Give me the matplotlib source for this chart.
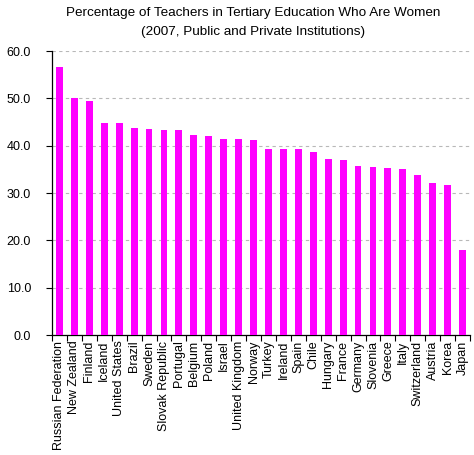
import numpy as np
import matplotlib.pyplot as plt
from matplotlib.ticker import FormatStrFormatter, FixedLocator

plt.rcParams['font.family'] = ['Liberation Sans', 'DejaVu Sans']

countries = ['Russian Federation', 'New Zealand', 'Finland', 'Iceland', 'United States',
             'Brazil', 'Sweden', 'Slovak Republic', 'Portugal', 'Belgium', 'Poland',
             'Israel', 'United Kingdom', 'Norway', 'Turkey', 'Ireland', 'Spain', 'Chile',
             'Hungary', 'France', 'Germany', 'Slovenia', 'Greece', 'Italy', 'Switzerland',
             'Austria', 'Korea', 'Japan']
share_women = [56.7, 50.0, 49.5, 44.7, 44.7, 43.8, 43.6, 43.3, 43.3, 42.3, 42.1,
               41.5, 41.5, 41.3, 39.3, 39.3, 39.3, 38.7, 37.1, 36.9, 35.7, 35.5,
               35.3, 35.1, 33.7, 32.1, 31.7, 18.0]

fig = plt.figure(figsize=(4.74, 4.55), dpi=100)
ax = fig.add_axes([52 / 474, 120 / 455, 418 / 474, 284 / 455])

x = np.arange(len(countries))
ax.bar(x, share_women, width=0.46, color='#ff00ff', zorder=3)

ax.set_xlim(-0.5, len(countries) - 0.5)
ax.set_ylim(0, 60)
ax.set_yticks(np.arange(0, 61, 10))
ax.yaxis.set_major_formatter(FormatStrFormatter('%.1f'))
ax.grid(axis='y', color='#b8b8b8', linestyle=(0, (3, 3)), linewidth=0.8, zorder=0)

ax.set_xticks(x)
ax.set_xticklabels(countries, rotation=90, fontsize=9)
ax.tick_params(axis='x', length=0, pad=4)
ax.xaxis.set_minor_locator(FixedLocator(np.arange(-0.5, len(countries), 1)))
ax.tick_params(axis='x', which='minor', length=4, width=0.8, direction='out')
ax.tick_params(axis='y', labelsize=9, length=4, width=0.8, direction='out', pad=11)

for side in ['top', 'right']:
    ax.spines[side].set_visible(False)
for side in ['left', 'bottom']:
    ax.spines[side].set_linewidth(0.9)

fig.text(253 / 474, 1 - 13 / 455, 'Percentage of Teachers in Tertiary Education Who Are Women',
         ha='center', va='center', fontsize=9.7)
fig.text(253 / 474, 1 - 32 / 455, '(2007, Public and Private Institutions)',
         ha='center', va='center', fontsize=9.7)

fig.savefig('out.png', dpi=100)
